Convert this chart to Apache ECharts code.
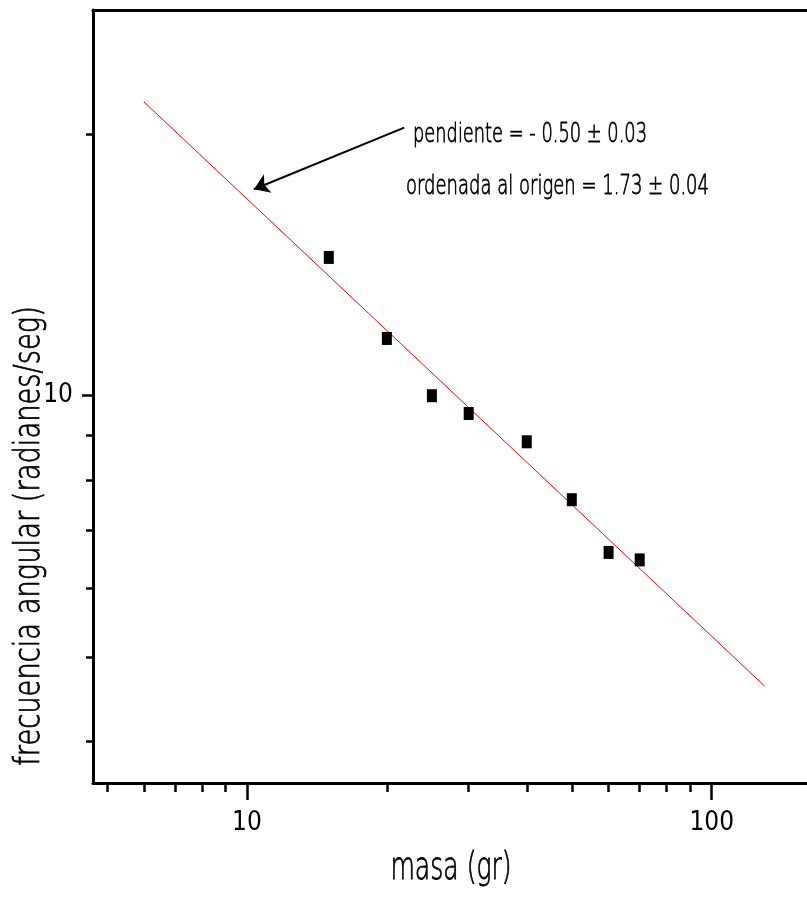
<!DOCTYPE html>
<html><head><meta charset="utf-8">
<script src="https://cdn.jsdelivr.net/npm/echarts@6/dist/echarts.min.js"></script>
<style>html,body{margin:0;padding:0;background:#fff}#c{width:807px;height:909px}</style>
</head><body><div id="c"></div>
<script>
// ---- data ----
const masa = [15, 20, 25, 30, 40, 50, 60, 70];
const frecuencia = [14.43, 11.64, 10.0, 9.54, 8.85, 7.59, 6.60, 6.47];
const ajusteMasa = [6, 130];
const ajusteFrecuencia = [21.8, 4.63];
const xMajorTicks = [10, 100];
const xMinorTicks = [5, 6, 7, 8, 9, 20, 30, 40, 50, 60, 70, 80, 90];
const yMajorTicks = [10];
const yMinorTicks = [4, 5, 6, 7, 8, 9, 20];
const xRange = [4.6634, 160.35];
const yRange = [3.581, 27.81];
const arrowFrom = [21.8, 20.36];
const arrowTo = [10.35, 17.29];
const textoPendiente = 'pendiente = - 0.50 ± 0.03';
const textoOrdenada = 'ordenada al origen = 1.73 ± 0.04';
const xTitle = 'masa (gr)';
const yTitle = 'frecuencia angular (radianes/seg)';

const FONT_TICK = "'DejaVu Sans Condensed', 'DejaVu Sans', sans-serif";
const FONT_LIGHT = "'DejaVu Sans', sans-serif";
const chart = echarts.init(document.getElementById('c'), null, {renderer: 'canvas'});

const baseX = {type: 'log', logBase: 10, min: xRange[0], max: xRange[1], gridIndex: 0,
  splitLine: {show: false}, minorTick: {show: false}, minorSplitLine: {show: false}};
const baseY = {type: 'log', logBase: 10, min: yRange[0], max: yRange[1], gridIndex: 0,
  splitLine: {show: false}, minorTick: {show: false}, minorSplitLine: {show: false}};

const lightText = (extra) => Object.assign({fontWeight: 200, fontFamily: FONT_LIGHT, fill: '#000', stroke: '#000', lineWidth: 0.8}, extra);

chart.setOption({
  animation: false,
  backgroundColor: '#fff',
  grid: {left: 93, top: 10, right: 0, bottom: 126, containLabel: false},
  xAxis: [
    Object.assign({}, baseX, {
      position: 'bottom',
      axisLine: {show: true, lineStyle: {color: '#000', width: 3}},
      axisTick: {show: true, inside: false, length: 17, lineStyle: {color: '#000', width: 2.5}, customValues: xMajorTicks},
      axisLabel: {show: true, margin: 27, fontSize: 26, lineHeight: 26, color: '#000', fontFamily: FONT_TICK, customValues: xMajorTicks}
    }),
    Object.assign({}, baseX, {
      position: 'bottom',
      axisLine: {show: false},
      axisTick: {show: true, inside: false, length: 9, lineStyle: {color: '#000', width: 2.5}, customValues: xMinorTicks},
      axisLabel: {show: false}
    }),
    Object.assign({}, baseX, {
      position: 'top',
      axisLine: {show: true, lineStyle: {color: '#000', width: 3}},
      axisTick: {show: false},
      axisLabel: {show: false}
    })
  ],
  yAxis: [
    Object.assign({}, baseY, {
      position: 'left',
      axisLine: {show: true, lineStyle: {color: '#000', width: 3}},
      axisTick: {show: true, inside: false, length: 11, lineStyle: {color: '#000', width: 2.5}, customValues: yMajorTicks},
      axisLabel: {show: true, margin: 20, fontSize: 26, lineHeight: 26, color: '#000', fontFamily: FONT_TICK, customValues: yMajorTicks}
    }),
    Object.assign({}, baseY, {
      position: 'left',
      axisLine: {show: false},
      axisTick: {show: true, inside: false, length: 7, lineStyle: {color: '#000', width: 2.5}, customValues: yMinorTicks},
      axisLabel: {show: false}
    })
  ],
  series: [
    {
      type: 'line',
      xAxisIndex: 0, yAxisIndex: 0,
      data: ajusteMasa.map((m, i) => [m, ajusteFrecuencia[i]]),
      symbol: 'none', showSymbol: false,
      lineStyle: {color: '#ff0000', width: 1, opacity: 1},
      silent: true,
      z: 2,
      markLine: {
        silent: true,
        symbol: ['none', 'arrow'],
        symbolSize: [15, 15],
        label: {show: false},
        lineStyle: {color: '#000', width: 2, type: 'solid'},
        data: [[{coord: arrowFrom}, {coord: arrowTo}]]
      }
    },
    {
      type: 'scatter',
      xAxisIndex: 0, yAxisIndex: 0,
      data: masa.map((m, i) => [m, frecuencia[i]]),
      symbol: 'rect', symbolSize: [10, 13],
      itemStyle: {color: '#000', opacity: 1},
      z: 3
    }
  ],
  graphic: [
    {type: 'text', x: 413, y: 135, scaleX: 0.66, style: lightText({text: textoPendiente, fontSize: 27, align: 'left', verticalAlign: 'middle'}), z: 10},
    {type: 'text', x: 406, y: 187, scaleX: 0.667, style: lightText({text: textoOrdenada, fontSize: 27, align: 'left', verticalAlign: 'middle'}), z: 10},
    {type: 'text', x: 451, y: 869, scaleX: 0.678, style: lightText({text: xTitle, fontSize: 37, align: 'center', verticalAlign: 'middle'}), z: 10},
    {type: 'text', x: 30, y: 536, rotation: Math.PI / 2, scaleX: 0.759, style: lightText({text: yTitle, fontSize: 36, align: 'center', verticalAlign: 'middle'}), z: 10}
  ]
});
</script>
</body></html>
